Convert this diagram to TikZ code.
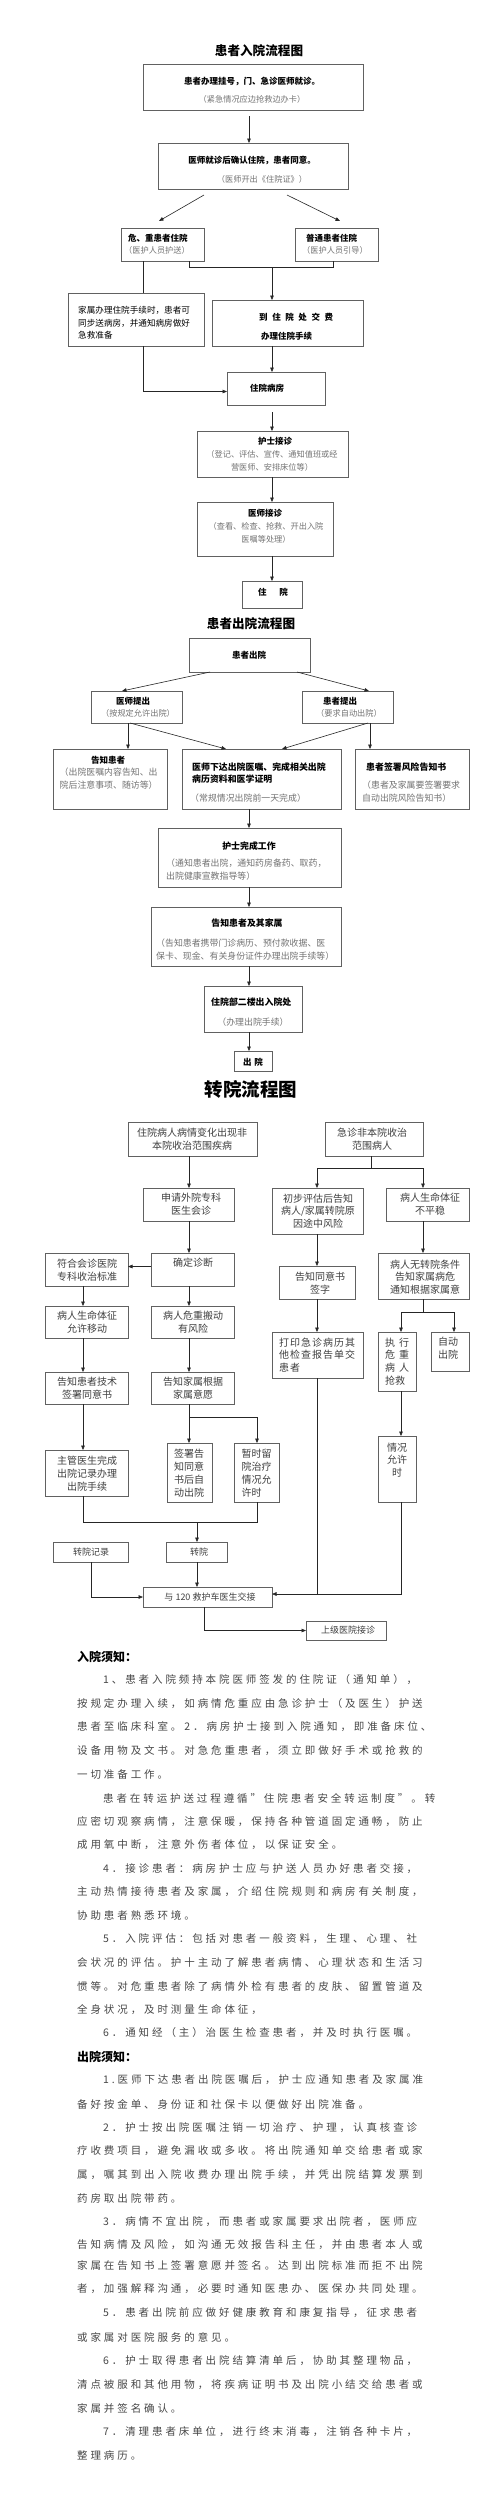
\documentclass[tikz,border=0pt]{standalone}
\usepackage{fontspec}
\setmainfont{Noto Sans CJK SC}
\usetikzlibrary{arrows.meta}
\newlength\spamt
\def\myspA#1{#1\myspB}
\def\myspB#1{\ifx#1\relax\else\hspace{\spamt}#1\expandafter\myspB\fi}
\newcommand\spaced[2]{{\setlength\spamt{#1}\myspA#2\relax}}
\newcommand\bx[5]{\node[box,anchor=north west,minimum width={#4-#2},minimum height={#5-#3}] (#1) at (#2,#3) {};}
\newcommand\bl[4]{\node[body] (#1) at (#2,#3) {\spaced{2.9pt}{#4}};}
\begin{document}
\begin{tikzpicture}[x=1pt,y=-1pt,
  box/.style={draw=black!62,line width=0.8pt,inner sep=0pt,outer sep=0pt},
  arr/.style={draw=black!85,line width=0.6pt,-{Triangle[length=4.5pt,width=3.6pt]}},
  ln/.style={draw=black!85,line width=0.6pt},
  T/.style={inner sep=0pt,font=\bfseries\fontsize{12.6}{14}\selectfont},
  T3/.style={inner sep=0pt,font=\bfseries\fontsize{18.5}{20}\selectfont},
  m/.style={inner sep=0pt,font=\bfseries\fontsize{8.5}{12.5}\selectfont},
  m9/.style={inner sep=0pt,font=\bfseries\fontsize{8.9}{12.5}\selectfont},
  n/.style={inner sep=0pt,font=\fontsize{8.6}{12.5}\selectfont},
  g/.style={inner sep=0pt,text=black!55,font=\fontsize{8.2}{12.5}\selectfont},
  g2/.style={inner sep=0pt,text=black!55,font=\fontsize{8.9}{12.8}\selectfont},
  s/.style={inner sep=0pt,text=black!75,align=center,font=\fontsize{10}{12.8}\selectfont},
  s9/.style={inner sep=0pt,text=black!75,font=\fontsize{9}{11}\selectfont},
  body/.style={inner sep=0pt,anchor=west,text=black!72,font=\fontsize{10.5}{12}\selectfont},
  head/.style={inner sep=0pt,anchor=west,font=\bfseries\fontsize{12}{14}\selectfont}]
\fill[white] (0,0) rectangle (500,2506);
\useasboundingbox (0,0) rectangle (500,2506);

% ---------------- Section 1
\node[T] (title1) at (259,51) {患者入院流程图};
\bx{b1}{143}{64}{363}{110}
\node[m] (t1a) at (252,81) {患者办理挂号，门、急诊医师就诊。};
\node[g] (t1b) at (252,99) {（紧急情况应边抢救边办卡）};
\bx{b2}{158}{143}{348}{189}
\node[m] (t2a) at (252,160) {医师就诊后确认住院，患者同意。};
\node[g] (t2b) at (262,179) {（医师开出《住院证》）};
\draw[arr] ([xshift=106,yshift=-6]b1.south west) -- ([xshift=91]b2.north west);
\bx{b3}{121}{228}{204}{261}
\node[m,anchor=west] (t3a) at (128,238) {危、重患者住院};
\node[g,anchor=west] (t3b) at (124,250) {（医护人员护送）};
\bx{b4}{295}{228}{378}{261}
\node[m,anchor=west] (t4a) at (306,238) {普通患者住院};
\node[g,anchor=west] (t4b) at (302,250) {（医护人员引导）};
\draw[arr] ([xshift=46,yshift=-6]b2.south west) -- ([xshift=38,yshift=7]b3.north west);
\draw[arr] ([xshift=129,yshift=-6]b2.south west) -- ([xshift=45,yshift=7]b4.north west);
\coordinate (j1) at (272,267);
\draw[ln] ([xshift=68]b3.south west) |- (j1);
\draw[ln] ([xshift=38]b4.south west) |- (j1);
\bx{b5}{68}{293}{204}{346}
\node[n,anchor=west,align=left] (t5) at (78,323) {家属办理住院手续时，患者可\\同步送病房，并通知病房做好\\急救准备};
\bx{b6}{212}{300}{363}{346}
\node[m,anchor=west] (t6a) at (259,317) {\spaced{4.6pt}{到住院处交费}};
\node[m,anchor=west] (t6b) at (261,336) {办理住院手续};
\draw[arr] (j1) -- ([xshift=60]b6.north west);
\draw[ln] ([xshift=22]b3.south west) -- ([xshift=75]b5.north west);
\bx{b7}{227}{372}{325}{405}
\node[m] (t7) at (267,388) {住院病房};
\draw[arr] ([xshift=60]b6.south west) -- ([xshift=45]b7.north west);
\draw[arr] ([xshift=75]b5.south west) |- ([yshift=-3]b7.west);
\bx{b8}{197}{431}{348}{477}
\node[m] (t8a) at (275,441) {护士接诊};
\node[g,align=center] (t8b) at (272,461) {（登记、评估、宣传、通知值班或经\\营医师、安排床位等）};
\draw[arr,shorten <=7pt] ([xshift=45]b7.south west) -- ([xshift=75]b8.north west);
\bx{b9}{197}{502}{333}{556}
\node[m] (t9a) at (265,513) {医师接诊};
\node[g,align=center] (t9b) at (266,533) {（查看、检查、抢救、开出入院\\医嘱等处理）};
\draw[arr] ([xshift=75]b8.south west) -- ([xshift=75]b9.north west);
\bx{b10}{242}{581}{302}{608}
\node[m] (t10) at (273,592) {住\hspace{13pt}院};
\draw[arr] ([xshift=75]b9.south west) -- ([xshift=30]b10.north west);

% ---------------- Section 2
\node[T] (title2) at (251,624) {患者出院流程图};
\bx{b11}{189}{638}{310}{672}
\node[m] (t11) at (249,655) {患者出院};
\bx{b12}{91}{691}{182}{723}
\node[m] (t12a) at (133,701) {医师提出};
\node[g] (t12b) at (138,713) {（按规定允许出院）};
\bx{b13}{302}{691}{393}{723}
\node[m] (t13a) at (340,701) {患者提出};
\node[g] (t13b) at (349,713) {（要求自动出院）};
\draw[arr] ([xshift=21]b11.south west) -- ([xshift=31]b12.north west);
\draw[arr] ([xshift=108]b11.south west) -- ([xshift=67]b13.north west);
\bx{b14}{53}{749}{167}{809}
\bx{b15}{182}{749}{341}{809}
\bx{b16}{355}{749}{469}{809}
\draw[arr] ([xshift=37]b12.south west) -- ([xshift=75]b14.north west);
\draw[arr] ([xshift=39]b12.south west) -- ([xshift=44]b15.north west);
\draw[arr] ([xshift=68]b13.south west) -- ([xshift=15]b16.north west);
\draw[arr] ([xshift=66]b13.south west) -- ([xshift=100]b15.north west);
\node[m] (t14a) at (108,760) {告知患者};
\node[g2,anchor=west,align=left] (t14b) at (59.5,779) {（出院医嘱内容告知、出\\院后注意事项、随访等）};
\node[m9,anchor=west,align=left] (t15a) at (192,773) {医师下达出院医嘱、完成相关出院\\病历资料和医学证明};
\node[g2,anchor=west] (t15b) at (190,798) {（常规情况出院前一天完成）};
\node[m9,anchor=west] (t16a) at (366,767) {患者签署风险告知书};
\node[g2,anchor=west,align=left] (t16b) at (362,792) {（患者及家属要签署要求\\自动出院风险告知书）};
\bx{b17}{158}{828}{341}{887}
\draw[arr] ([xshift=67]b15.south west) -- ([xshift=91]b17.north west);
\node[m9] (t17a) at (249,846) {护士完成工作};
\node[g2,anchor=west,align=left] (t17b) at (166,870) {（通知患者出院，通知药房备药、取药，\\出院健康宣教指导等）};
\bx{b18}{151}{907}{341}{966}
\draw[arr] ([xshift=91]b17.south west) -- ([xshift=98]b18.north west);
\node[m9] (t18a) at (247,923) {告知患者及其家属};
\node[g2,anchor=west,align=left] (t18b) at (156,949.5) {（告知患者携带门诊病历、预付款收据、医\\保卡、现金、有关身份证件办理出院手续等）};
\bx{b19}{204}{986}{302}{1032}
\draw[arr] ([xshift=98]b18.south west) -- ([xshift=45]b19.north west);
\node[m9,anchor=west] (t19a) at (211,1002) {住院部二楼出入院处};
\node[g2] (t19b) at (253,1022) {（办理出院手续）};
\bx{b20}{234}{1051}{272}{1071}
\draw[arr] ([xshift=45]b19.south west) -- ([xshift=15]b20.north west);
\node[m] (t20) at (253,1062) {出\hspace{3pt}院};

% ---------------- Section 3
\node[T3] (title3) at (251,1089) {转院流程图};
\bx{b21}{128}{1122}{257}{1156}
\node[s] (t21) at (192,1139) {住院病人病情变化出现非\\本院收治范围疾病};
\bx{b22}{325}{1122}{423}{1156}
\node[s] (t22) at (372,1139) {急诊非本院收治\\范围病人};
\bx{b23}{143}{1188}{234}{1221}
\node[s] (t23) at (191,1204.5) {申请外院专科\\医生会诊};
\draw[arr] ([xshift=61]b21.south west) -- ([xshift=46]b23.north west);
\bx{b24}{272}{1188}{363}{1234}
\node[s] (t24) at (318,1211) {初步评估后告知\\病人/家属转院原\\因途中风险};
\bx{b25}{386}{1188}{469}{1221}
\node[s] (t25) at (430,1204.5) {病人生命体征\\不平稳};
\coordinate (j2) at (371,1168);
\draw[ln] ([xshift=46]b22.south west) -- (j2);
\draw[arr] (j2) -| ([xshift=45]b24.north west);
\draw[arr] (j2) -| ([xshift=37]b25.north west);
\bx{b26}{151}{1253}{234}{1286}
\node[s] (t26) at (193,1263) {确定诊断};
\bx{b27}{45}{1253}{128}{1286}
\node[s] (t27) at (87,1270) {符合会诊医院\\专科收治标准};
\draw[arr] ([xshift=46]b23.south west) -- ([xshift=38]b26.north west);
\draw[arr] ([yshift=3]b26.west) -- ([yshift=3]b27.east);
\bx{b28}{45}{1306}{128}{1338}
\node[s] (t28) at (87,1322) {病人生命体征\\允许移动};
\bx{b29}{151}{1306}{234}{1338}
\node[s] (t29) at (193,1322) {病人危重搬动\\有风险};
\draw[arr] ([xshift=38]b27.south west) -- ([xshift=38]b28.north west);
\draw[arr] ([xshift=38]b26.south west) -- ([xshift=38]b29.north west);
\bx{b30}{45}{1372}{128}{1404}
\node[s] (t30) at (87,1388) {告知患者技术\\签署同意书};
\bx{b31}{151}{1372}{234}{1404}
\node[s] (t31) at (193,1388) {告知家属根据\\家属意愿};
\draw[arr] ([xshift=38]b28.south west) -- ([xshift=38]b30.north west);
\draw[arr] ([xshift=38]b29.south west) -- ([xshift=38]b31.north west);
\bx{b32}{167}{1443}{212}{1502}
\node[s] (t32) at (189,1473) {签署告\\知同意\\书后自\\动出院};
\bx{b33}{234}{1443}{279}{1502}
\node[s,anchor=west,align=left] (t33) at (241.5,1473) {暂时留\\院治疗\\情况允\\许时};
\coordinate (j3) at (189,1417);
\draw[ln] ([xshift=38]b31.south west) -- (j3);
\draw[arr] (j3) -- ([xshift=22]b32.north west);
\draw[arr] (j3) -| ([xshift=23]b33.north west);
\bx{b34}{279}{1266}{355}{1299}
\node[s] (t34) at (320,1283) {告知同意书\\签字};
\draw[arr] ([xshift=45]b24.south west) -- ([xshift=38]b34.north west);
\bx{b35}{272}{1332}{363}{1378}
\node[s,anchor=west,align=left] (t35) at (279,1355) {\spaced{1pt}{打印急诊病历其}\\\spaced{1pt}{他检查报告单交}\\\spaced{1pt}{患者}};
\draw[arr] ([xshift=38]b34.south west) -- ([xshift=45]b35.north west);
\bx{b36}{378}{1253}{469}{1299}
\node[s] (t36) at (425,1277) {病人无转院条件\\告知家属病危\\通知根据家属意};
\draw[arr] ([xshift=37]b25.south west) -- ([xshift=45]b36.north west);
\bx{b37}{378}{1332}{416}{1391}
\node[s,anchor=west,align=left] (t37) at (385,1361.5) {执\hspace{4pt}行\\危\hspace{4pt}重\\病\hspace{4pt}人\\抢救};
\bx{b38}{431}{1332}{469}{1371}
\node[s,anchor=west,align=left] (t38) at (438,1348.5) {自动\\出院};
\coordinate (j4) at (423,1312);
\draw[ln] ([xshift=45]b36.south west) -- (j4);
\draw[arr] (j4) -| ([xshift=23]b37.north west);
\draw[arr] (j4) -| ([xshift=23]b38.north west);
\bx{b39}{378}{1436}{416}{1502}
\node[s] (t39) at (397,1460) {情况\\允许\\时};
\draw[arr] ([xshift=23]b37.south west) -- ([xshift=23]b39.north west);
\bx{b40}{45}{1450}{128}{1496}
\node[s] (t40) at (87,1473.5) {主管医生完成\\出院记录办理\\出院手续};
\draw[arr] ([xshift=38]b30.south west) -- ([xshift=38]b40.north west);
\bx{b41}{53}{1542}{128}{1562}
\node[s9] (t41) at (91,1552) {转院记录};
\bx{b42}{166}{1542}{227}{1562}
\node[s9] (t42) at (199,1552) {转院};
\coordinate (j5) at (197,1522);
\draw[ln] ([xshift=38]b40.south west) |- (j5);
\draw[ln] ([xshift=23]b33.south west) |- (j5);
\draw[arr] (j5) -- ([xshift=31]b42.north west);
\bx{b43}{143}{1587}{272}{1607}
\node[s9] (t43) at (210,1597) {与 120 救护车医生交接};
\draw[arr] ([xshift=31]b42.south west) -- ([xshift=54]b43.north west);
\draw[arr] ([xshift=38]b41.south west) |- (b43.west);
\coordinate (j6) at (317,1594);
\draw[ln] ([xshift=45]b35.south west) -- (j6);
\draw[arr] ([xshift=23]b39.south west) |- ([yshift=3]b43.east);
\bx{b44}{306}{1621}{386}{1640}
\node[s9] (t44) at (348,1630.5) {上级医院接诊};
\draw[arr] ([xshift=61]b43.south west) |- (b44.west);

% ---------------- Notes
\node[head] (h1) at (77,1657) {入院须知：};
\bl{p1}{103}{1680}{1、患者入院频持本院医师签发的住院证（通知单），}
\bl{p2}{77}{1703.5}{按规定办理入续，如病情危重应由急诊护士（及医生）护送}
\bl{p3}{77}{1727}{患者至临床科室。2．病房护士接到入院通知，即准备床位、}
\bl{p4}{77}{1750.5}{设备用物及文书。对急危重患者，须立即做好手术或抢救的}
\bl{p5}{77}{1774}{一切准备工作。}
\bl{p6}{103}{1798}{患者在转运护送过程遵循"住院患者安全转运制度"。转}
\bl{p7}{77}{1821.5}{应密切观察病情，注意保暖，保持各种管道固定通畅，防止}
\bl{p8}{77}{1845}{成用氧中断，注意外伤者体位，以保证安全。}
\bl{p9}{103}{1868.5}{4．接诊患者：病房护士应与护送人员办好患者交接，}
\bl{p10}{77}{1892}{主动热情接待患者及家属，介绍住院规则和病房有关制度，}
\bl{p11}{77}{1915.5}{协助患者熟悉环境。}
\bl{p12}{103}{1939}{5．入院评估：包括对患者一般资料，生理、心理、社}
\bl{p13}{77}{1962.5}{会状况的评估。护十主动了解患者病情、心理状态和生活习}
\bl{p14}{77}{1986}{惯等。对危重患者除了病情外检有患者的皮肤、留置管道及}
\bl{p15}{77}{2009.5}{全身状况，及时测量生命体征，}
\bl{p16}{103}{2033}{6．通知经（主）治医生检查患者，并及时执行医嘱。}
\node[head] (h2) at (77,2057) {出院须知：};
\bl{q1}{103}{2080}{1.医师下达患者出院医嘱后，护士应通知患者及家属准}
\bl{q2}{77}{2104}{备好按金单、身份证和社保卡以便做好出院准备。}
\bl{q3}{103}{2127.5}{2．护士按出院医嘱注销一切治疗、护理，认真核查诊}
\bl{q4}{77}{2151}{疗收费项目，避免漏收或多收。将出院通知单交给患者或家}
\bl{q5}{77}{2174.5}{属，嘱其到出入院收费办理出院手续，并凭出院结算发票到}
\bl{q6}{77}{2198}{药房取出院带药。}
\bl{q7}{103}{2221.5}{3．病情不宜出院，而患者或家属要求出院者，医师应}
\bl{q8}{77}{2245}{告知病情及风险，如沟通无效报告科主任，并由患者本人或}
\bl{q9}{77}{2265}{家属在告知书上签署意愿并签名。达到出院标准而拒不出院}
\bl{q10}{77}{2289}{者，加强解释沟通，必要时通知医患办、医保办共同处理。}
\bl{q11}{103}{2313}{5．患者出院前应做好健康教育和康复指导，征求患者}
\bl{q12}{77}{2337}{或家属对医院服务的意见。}
\bl{q13}{103}{2361}{6．护士取得患者出院结算清单后，协助其整理物品，}
\bl{q14}{77}{2385}{清点被服和其他用物，将疾病证明书及出院小结交给患者或}
\bl{q15}{77}{2408}{家属并签名确认。}
\bl{q16}{103}{2432}{7．清理患者床单位，进行终末消毒，注销各种卡片，}
\bl{q17}{77}{2455}{整理病历。}
\end{tikzpicture}
\end{document}
